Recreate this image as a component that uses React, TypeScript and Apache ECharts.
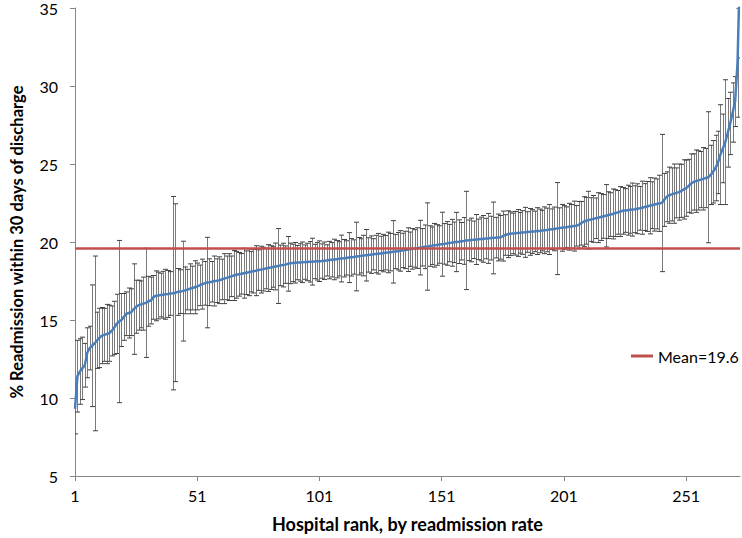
import React, { useEffect, useRef } from "react";
import * as echarts from "echarts";

// Hospital ranks 1..273
const HOSPITAL_COUNT = 273;
const RANKS: string[] = Array.from({ length: HOSPITAL_COUNT }, (_, i) => String(i + 1));

const MEAN_RATE = 19.6;

// % readmission within 30 days, per hospital (sorted by rank)
const RATES: number[] = [
  9.3, 11.4, 11.7, 11.9, 12.1, 12.9, 13.2, 13.35, 13.5, 13.7,
  13.85, 14.0, 14.05, 14.1, 14.15, 14.3, 14.5, 14.75, 14.9, 15.0,
  15.2, 15.4, 15.45, 15.5, 15.7, 15.85, 15.95, 16.0, 16.05, 16.1,
  16.2, 16.25, 16.45, 16.55, 16.57, 16.6, 16.62, 16.65, 16.67, 16.7,
  16.72, 16.75, 16.8, 16.82, 16.85, 16.9, 16.95, 17.0, 17.05, 17.1,
  17.15, 17.22, 17.3, 17.35, 17.4, 17.42, 17.45, 17.5, 17.52, 17.55,
  17.6, 17.65, 17.7, 17.75, 17.8, 17.85, 17.9, 17.93, 17.96, 18.0,
  18.03, 18.06, 18.1, 18.13, 18.16, 18.2, 18.23, 18.26, 18.3, 18.33,
  18.36, 18.4, 18.43, 18.46, 18.5, 18.52, 18.55, 18.6, 18.63, 18.66,
  18.67, 18.68, 18.69, 18.7, 18.71, 18.72, 18.73, 18.74, 18.75, 18.76,
  18.77, 18.78, 18.8, 18.82, 18.84, 18.86, 18.88, 18.9, 18.92, 18.94,
  18.96, 18.98, 19.0, 19.02, 19.04, 19.07, 19.09, 19.11, 19.13, 19.15,
  19.17, 19.19, 19.21, 19.23, 19.25, 19.27, 19.29, 19.31, 19.33, 19.35,
  19.37, 19.39, 19.41, 19.43, 19.46, 19.49, 19.51, 19.54, 19.56, 19.59,
  19.61, 19.64, 19.66, 19.69, 19.71, 19.74, 19.76, 19.79, 19.81, 19.84,
  19.86, 19.88, 19.91, 19.93, 19.95, 19.98, 20.0, 20.02, 20.05, 20.07,
  20.1, 20.11, 20.13, 20.14, 20.16, 20.17, 20.19, 20.2, 20.22, 20.23,
  20.25, 20.26, 20.28, 20.29, 20.3, 20.38, 20.45, 20.5, 20.53, 20.55,
  20.56, 20.58, 20.59, 20.61, 20.62, 20.64, 20.65, 20.67, 20.68, 20.7,
  20.71, 20.73, 20.75, 20.77, 20.8, 20.82, 20.84, 20.86, 20.89, 20.91,
  20.93, 20.95, 20.98, 21.0, 21.02, 21.04, 21.1, 21.2, 21.3, 21.36,
  21.4, 21.44, 21.48, 21.52, 21.56, 21.6, 21.64, 21.68, 21.72, 21.76,
  21.8, 21.85, 21.9, 21.95, 22.0, 22.02, 22.04, 22.06, 22.08, 22.1,
  22.13, 22.16, 22.2, 22.24, 22.28, 22.32, 22.36, 22.4, 22.44, 22.48,
  22.5, 22.7, 22.9, 23.0, 23.05, 23.1, 23.15, 23.2, 23.28, 23.37,
  23.45, 23.6, 23.75, 23.85, 23.9, 23.95, 24.0, 24.05, 24.1, 24.15,
  24.3, 24.5, 24.74, 25.1, 25.6, 26.0, 26.4, 27.0, 27.6, 28.3,
  29.0, 31.5, 38.0,
];

// half-width of the confidence interval, per hospital
const HALF_CI: number[] = [
  1.6, 2.3, 2.1, 2.0, 1.4, 1.6, 1.4, 3.9, 5.6, 1.8,
  1.9, 1.8, 1.7, 1.9, 1.8, 1.6, 1.7, 1.9, 5.2, 1.7,
  1.5, 1.4, 1.6, 1.5, 2.9, 1.7, 1.6, 1.5, 1.7, 3.5,
  1.6, 1.5, 1.4, 1.6, 1.5, 1.4, 1.5, 1.6, 1.5, 1.4,
  6.2, 5.7, 1.5, 1.4, 3.2, 1.5, 1.3, 1.6, 1.4, 1.7,
  1.5, 1.3, 1.6, 1.4, 2.9, 1.5, 1.3, 1.6, 1.4, 1.5,
  1.3, 1.6, 1.4, 1.5, 1.3, 1.6, 1.5, 1.4, 1.3, 1.6,
  1.4, 1.5, 1.3, 1.4, 1.6, 1.3, 1.5, 1.4, 1.3, 1.5,
  1.4, 1.3, 1.5, 2.4, 1.3, 1.4, 1.2, 1.75, 1.3, 1.2,
  1.3, 1.1, 1.2, 1.3, 1.1, 1.2, 1.3, 1.5, 1.1, 1.2,
  1.3, 1.1, 1.2, 1.0, 1.2, 1.1, 1.3, 1.2, 1.1, 1.5,
  1.2, 1.1, 1.6, 1.2, 1.1, 2.2, 1.2, 1.1, 1.3, 1.65,
  1.1, 1.2, 1.0, 1.2, 1.3, 1.1, 1.2, 1.1, 1.3, 1.2,
  2.0, 1.1, 1.2, 1.3, 1.1, 1.2, 1.4, 1.1, 1.3, 1.2,
  1.3, 1.75, 1.2, 1.4, 2.8, 1.3, 1.2, 1.4, 1.3, 1.2,
  2.05, 1.3, 1.4, 1.2, 1.5, 1.3, 1.9, 1.4, 1.2, 1.5,
  3.15, 1.3, 1.4, 1.2, 1.6, 1.3, 1.4, 1.5, 1.3, 1.6,
  1.4, 2.3, 1.3, 1.5, 1.4, 1.6, 1.3, 1.5, 1.4, 1.3,
  1.4, 1.5, 1.3, 1.4, 1.6, 1.3, 1.5, 1.4, 1.3, 1.5,
  1.4, 1.3, 1.5, 1.4, 1.6, 1.3, 1.4, 2.95, 1.3, 1.5,
  1.4, 1.3, 1.5, 1.4, 1.6, 1.3, 1.5, 1.4, 1.6, 1.5,
  1.85, 1.4, 1.5, 1.3, 1.6, 1.5, 1.4, 2.0, 1.5, 1.4,
  1.6, 1.5, 1.4, 1.6, 1.5, 1.4, 1.6, 1.5, 1.7, 1.5,
  1.6, 1.4, 1.7, 1.5, 1.6, 1.8, 1.5, 1.7, 1.6, 1.8,
  4.4, 1.7, 1.6, 1.8, 1.7, 1.9, 1.6, 1.8, 1.7, 1.9,
  1.8, 1.7, 1.9, 1.8, 2.0, 1.9, 1.8, 2.0, 1.9, 4.2,
  1.9, 2.0, 2.1, 2.0, 3.2, 2.2, 4.0, 2.2, 2.0, 1.9,
  1.6, 3.5, 6.2,
];

const Y_MIN = 5;
const Y_MAX = 35;
const Y_STEP = 5;

export default function App() {
  const ref = useRef<HTMLDivElement>(null);

  useEffect(() => {
    document.body.style.margin = "0";
    if (!ref.current) return;
    const chart = echarts.init(ref.current, null, { renderer: "svg" });

    const errData = RANKS.map((_, i) => [i, RATES[i] - HALF_CI[i], RATES[i] + HALF_CI[i]]);
    const font = "Lato, 'Open Sans', sans-serif";
    const showEvery50 = (idx: number) => idx % 50 === 0;

    chart.setOption({
      animation: false,
      backgroundColor: "#ffffff",
      textStyle: { fontFamily: font },
      grid: { left: 70.5, right: 2, top: 6, bottom: 60.5, containLabel: false },
      legend: {
        show: true,
        data: [{ name: "Mean=19.6", icon: "rect" }],
        left: 631,
        top: 348,
        padding: 0,
        itemWidth: 22,
        itemHeight: 3,
        textStyle: { fontSize: 16, color: "#000", fontFamily: font },
      },
      xAxis: {
        type: "category",
        data: RANKS,
        boundaryGap: false,
        name: "Hospital rank, by readmission rate",
        nameLocation: "middle",
        nameGap: 39,
        nameTextStyle: { fontSize: 18, fontWeight: "bold", color: "#000", fontFamily: font },
        axisLine: { show: true, lineStyle: { color: "#868686", width: 1 } },
        axisTick: { show: true, interval: showEvery50, length: 5, lineStyle: { color: "#868686" } },
        axisLabel: { interval: showEvery50, fontSize: 16, color: "#000", margin: 11, fontFamily: font },
        splitLine: { show: false },
      },
      yAxis: {
        type: "value",
        min: Y_MIN,
        max: Y_MAX,
        interval: Y_STEP,
        name: "% Readmission within 30 days of discharge",
        nameLocation: "middle",
        nameGap: 50,
        nameTextStyle: { fontSize: 16.5, fontWeight: "bold", color: "#000", fontFamily: font },
        axisLine: { show: true, lineStyle: { color: "#868686", width: 1 } },
        axisTick: { show: true, length: 5, lineStyle: { color: "#868686" } },
        axisLabel: { fontSize: 16, color: "#000", margin: 17, fontFamily: font },
        splitLine: { show: false },
      },
      series: [
        {
          name: "CI",
          type: "custom",
          clip: true,
          z: 1,
          data: errData,
          encode: { x: 0, y: [1, 2] },
          renderItem: (params: any, api: any) => {
            const idx = api.value(0);
            const lo = api.coord([idx, api.value(1)]);
            const hi = api.coord([idx, api.value(2)]);
            const x = Math.round(lo[0]) + 0.5;
            const stem = { stroke: "#7a7a7a", lineWidth: 1 };
            const cap = { stroke: "#404040", lineWidth: 1 };
            return {
              type: "group",
              children: [
                { type: "line", shape: { x1: x, y1: lo[1], x2: x, y2: hi[1] }, style: stem },
                { type: "line", shape: { x1: x - 2.5, y1: lo[1], x2: x + 2.5, y2: lo[1] }, style: cap },
                { type: "line", shape: { x1: x - 2.5, y1: hi[1], x2: x + 2.5, y2: hi[1] }, style: cap },
              ],
            };
          },
        },
        {
          name: "Mean=19.6",
          type: "line",
          data: [],
          z: 3,
          itemStyle: { color: "#C0504D" },
          lineStyle: { color: "#C0504D" },
          markLine: {
            silent: true,
            symbol: "none",
            label: { show: false },
            lineStyle: { color: "#C0504D", width: 2.5, type: "solid" },
            data: [{ yAxis: MEAN_RATE }],
          },
        },
        {
          name: "Rate",
          type: "line",
          data: RATES,
          z: 4,
          showSymbol: false,
          symbol: "none",
          clip: true,
          lineStyle: { color: "#4A7EBB", width: 2.5 },
          itemStyle: { color: "#4A7EBB" },
        },
      ],
    });

    return () => chart.dispose();
  }, []);

  return (
    <div
      ref={ref}
      style={{ position: "fixed", left: 0, top: 0, width: 742, height: 538 }}
    />
  );
}
